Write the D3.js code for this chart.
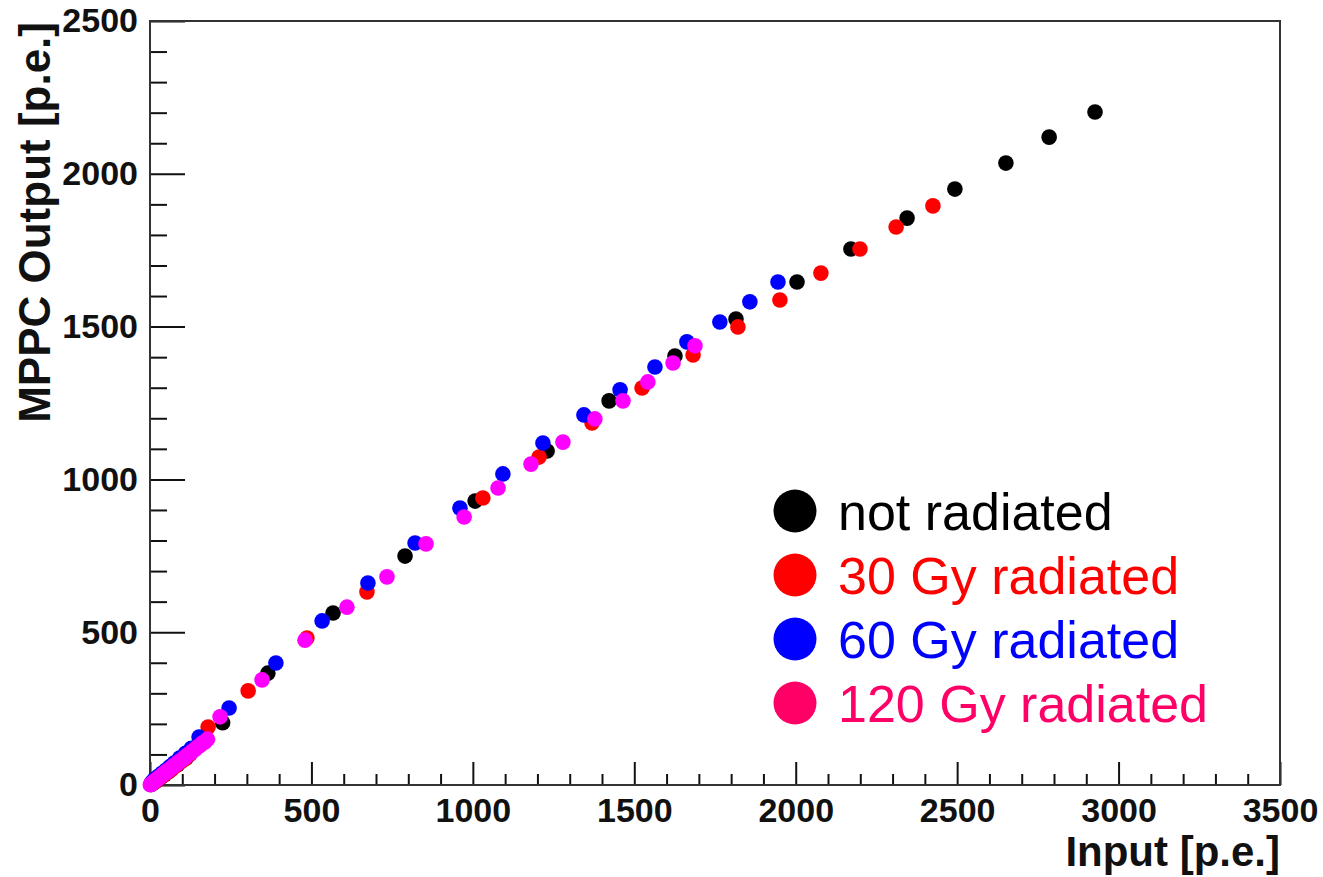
<!DOCTYPE html>
<html>
<head>
<meta charset="utf-8">
<script src="https://cdn.jsdelivr.net/npm/d3@7"></script>
<style>
  body { margin: 0; background: #fff; }
  svg { display: block; font-family: "Liberation Sans", Arial, sans-serif; }
</style>
</head>
<body>
<div id="chart"></div>
<script>
// input [p.e.] vs MPPC output [p.e.]
const notRadiatedX = [2927, 2785, 2651, 2493, 2345, 2171, 2004, 1815, 1626, 1422, 1230, 1007, 790, 567, 365, 225, 139, 112, 100, 85, 70, 58, 45, 35, 25, 16, 10, 4];
const notRadiatedY = [2202, 2120, 2035, 1950, 1855, 1754, 1646, 1525, 1404, 1257, 1093, 929, 749, 563, 366, 204, 121, 88, 80, 66, 55, 44, 34, 26, 18, 11, 7, 2];

const gy30X = [2425, 2311, 2199, 2078, 1951, 1821, 1682, 1524, 1369, 1205, 1031, 672, 486, 304, 180, 124, 108, 95, 80, 65, 52, 40, 30, 20, 12, 6];
const gy30Y = [1895, 1826, 1754, 1675, 1587, 1499, 1407, 1299, 1185, 1073, 939, 632, 481, 308, 190, 101, 86, 76, 63, 50, 40, 30, 22, 14, 8, 4];

const gy60X = [1945, 1858, 1765, 1663, 1564, 1456, 1344, 1217, 1093, 960, 821, 675, 533, 390, 245, 152, 128, 110, 92, 75, 62, 50, 38, 28, 18, 12, 5];
const gy60Y = [1646, 1581, 1515, 1450, 1368, 1293, 1211, 1119, 1018, 906, 792, 661, 537, 399, 252, 157, 120, 104, 88, 72, 60, 49, 39, 30, 22, 16, 8];

const gy120X = [1688, 1620, 1542, 1465, 1378, 1279, 1180, 1078, 973, 855, 734, 610, 480, 347, 217,
                178, 170, 162, 155, 147, 140, 132, 125, 117, 110, 103, 96, 89, 83, 76, 70, 64, 58, 52, 47, 42, 37, 32, 28, 24, 20, 16, 13, 10, 7, 5, 3, 1];
const gy120Y = [1437, 1381, 1319, 1257, 1198, 1122, 1050, 972, 877, 789, 681, 582, 474, 344, 223,
                150, 141, 137, 129, 124, 117, 111, 104, 99, 92, 87, 80, 76, 69, 65, 58, 55, 48, 46, 39, 37, 31, 28, 23, 21, 17, 14, 11, 9, 6, 4, 2, 1];

const seriesNames = ["not radiated", "30 Gy radiated", "60 Gy radiated", "120 Gy radiated"];
const markerColors = ["#000000", "#ff0000", "#0000ff", "#ff00ff"];
const legendColors = ["#000000", "#ff0000", "#0000ff", "#ff0066"];

const xMajorTicks = [0, 500, 1000, 1500, 2000, 2500, 3000, 3500];
const yMajorTicks = [0, 500, 1000, 1500, 2000, 2500];

const width = 1323;
const height = 877;

const svg = d3.select("#chart")
  .append("svg")
  .attr("width", width)
  .attr("height", height);

const x = d3.scaleLinear().domain([0, 3500]).range([150, 1280]);
const y = d3.scaleLinear().domain([0, 2500]).range([785, 21]);

// minor ticks every 100
const xMinor = d3.range(0, 3501, 100).filter((v) => v % 500 !== 0);
const yMinor = d3.range(0, 2501, 100).filter((v) => v % 500 !== 0);

const xAxisG = svg.append("g").attr("transform", `translate(0,${y(0)})`);
xAxisG.append("g")
  .call(d3.axisBottom(x).tickValues(xMinor).tickSizeInner(-11).tickSizeOuter(0).tickFormat(""));
xAxisG.append("g")
  .call(d3.axisBottom(x).tickValues(xMajorTicks).tickSizeInner(-23).tickSizeOuter(0)
    .tickPadding(13).tickFormat(d3.format("d")));

const yAxisG = svg.append("g").attr("transform", `translate(${x(0)},0)`);
yAxisG.append("g")
  .call(d3.axisLeft(y).tickValues(yMinor).tickSizeInner(-17).tickSizeOuter(0).tickFormat(""));
yAxisG.append("g")
  .call(d3.axisLeft(y).tickValues(yMajorTicks).tickSizeInner(-35).tickSizeOuter(0)
    .tickPadding(12).tickFormat(d3.format("d")));

svg.selectAll(".domain").remove();
svg.selectAll(".tick line").attr("stroke", "#111").attr("stroke-width", 2);
svg.selectAll(".tick text")
  .attr("font-family", "Liberation Sans, Arial, sans-serif")
  .attr("font-size", 34)
  .attr("font-weight", "bold")
  .attr("fill", "#111");

// frame
svg.append("rect")
  .attr("x", x(0))
  .attr("y", y(2500))
  .attr("width", x(3500) - x(0))
  .attr("height", y(0) - y(2500))
  .attr("fill", "none")
  .attr("stroke", "#333")
  .attr("stroke-width", 2);

// axis titles
svg.append("text")
  .text("Input [p.e.]")
  .attr("x", x(3500))
  .attr("y", 866)
  .attr("text-anchor", "end")
  .attr("font-size", 42)
  .attr("font-weight", "bold")
  .attr("fill", "#111");

svg.append("text")
  .text("MPPC Output [p.e.]")
  .attr("transform", `translate(50,${y(2500) + 1}) rotate(-90)`)
  .attr("text-anchor", "end")
  .attr("font-size", 44)
  .attr("font-weight", "bold")
  .attr("fill", "#111");

// data points, drawn in the same order as the original (magenta on top)
const allSeries = [
  [notRadiatedX, notRadiatedY],
  [gy30X, gy30Y],
  [gy60X, gy60Y],
  [gy120X, gy120Y],
];

allSeries.forEach(([xs, ys], i) => {
  svg.append("g")
    .selectAll("circle")
    .data(xs.map((v, j) => [v, ys[j]]))
    .enter()
    .append("circle")
    .attr("cx", (d) => x(d[0]))
    .attr("cy", (d) => y(d[1]))
    .attr("r", 7.8)
    .attr("fill", markerColors[i]);
});

// legend
const legend = svg.append("g")
  .selectAll("g")
  .data(seriesNames)
  .enter()
  .append("g")
  .attr("transform", (d, i) => `translate(795,${511 + i * 64})`);

legend.append("circle")
  .attr("r", 21.5)
  .attr("fill", (d, i) => legendColors[i]);

legend.append("text")
  .text((d) => d)
  .attr("x", 43)
  .attr("y", 19)
  .attr("font-size", 52)
  .attr("fill", (d, i) => legendColors[i]);
</script>
</body>
</html>
